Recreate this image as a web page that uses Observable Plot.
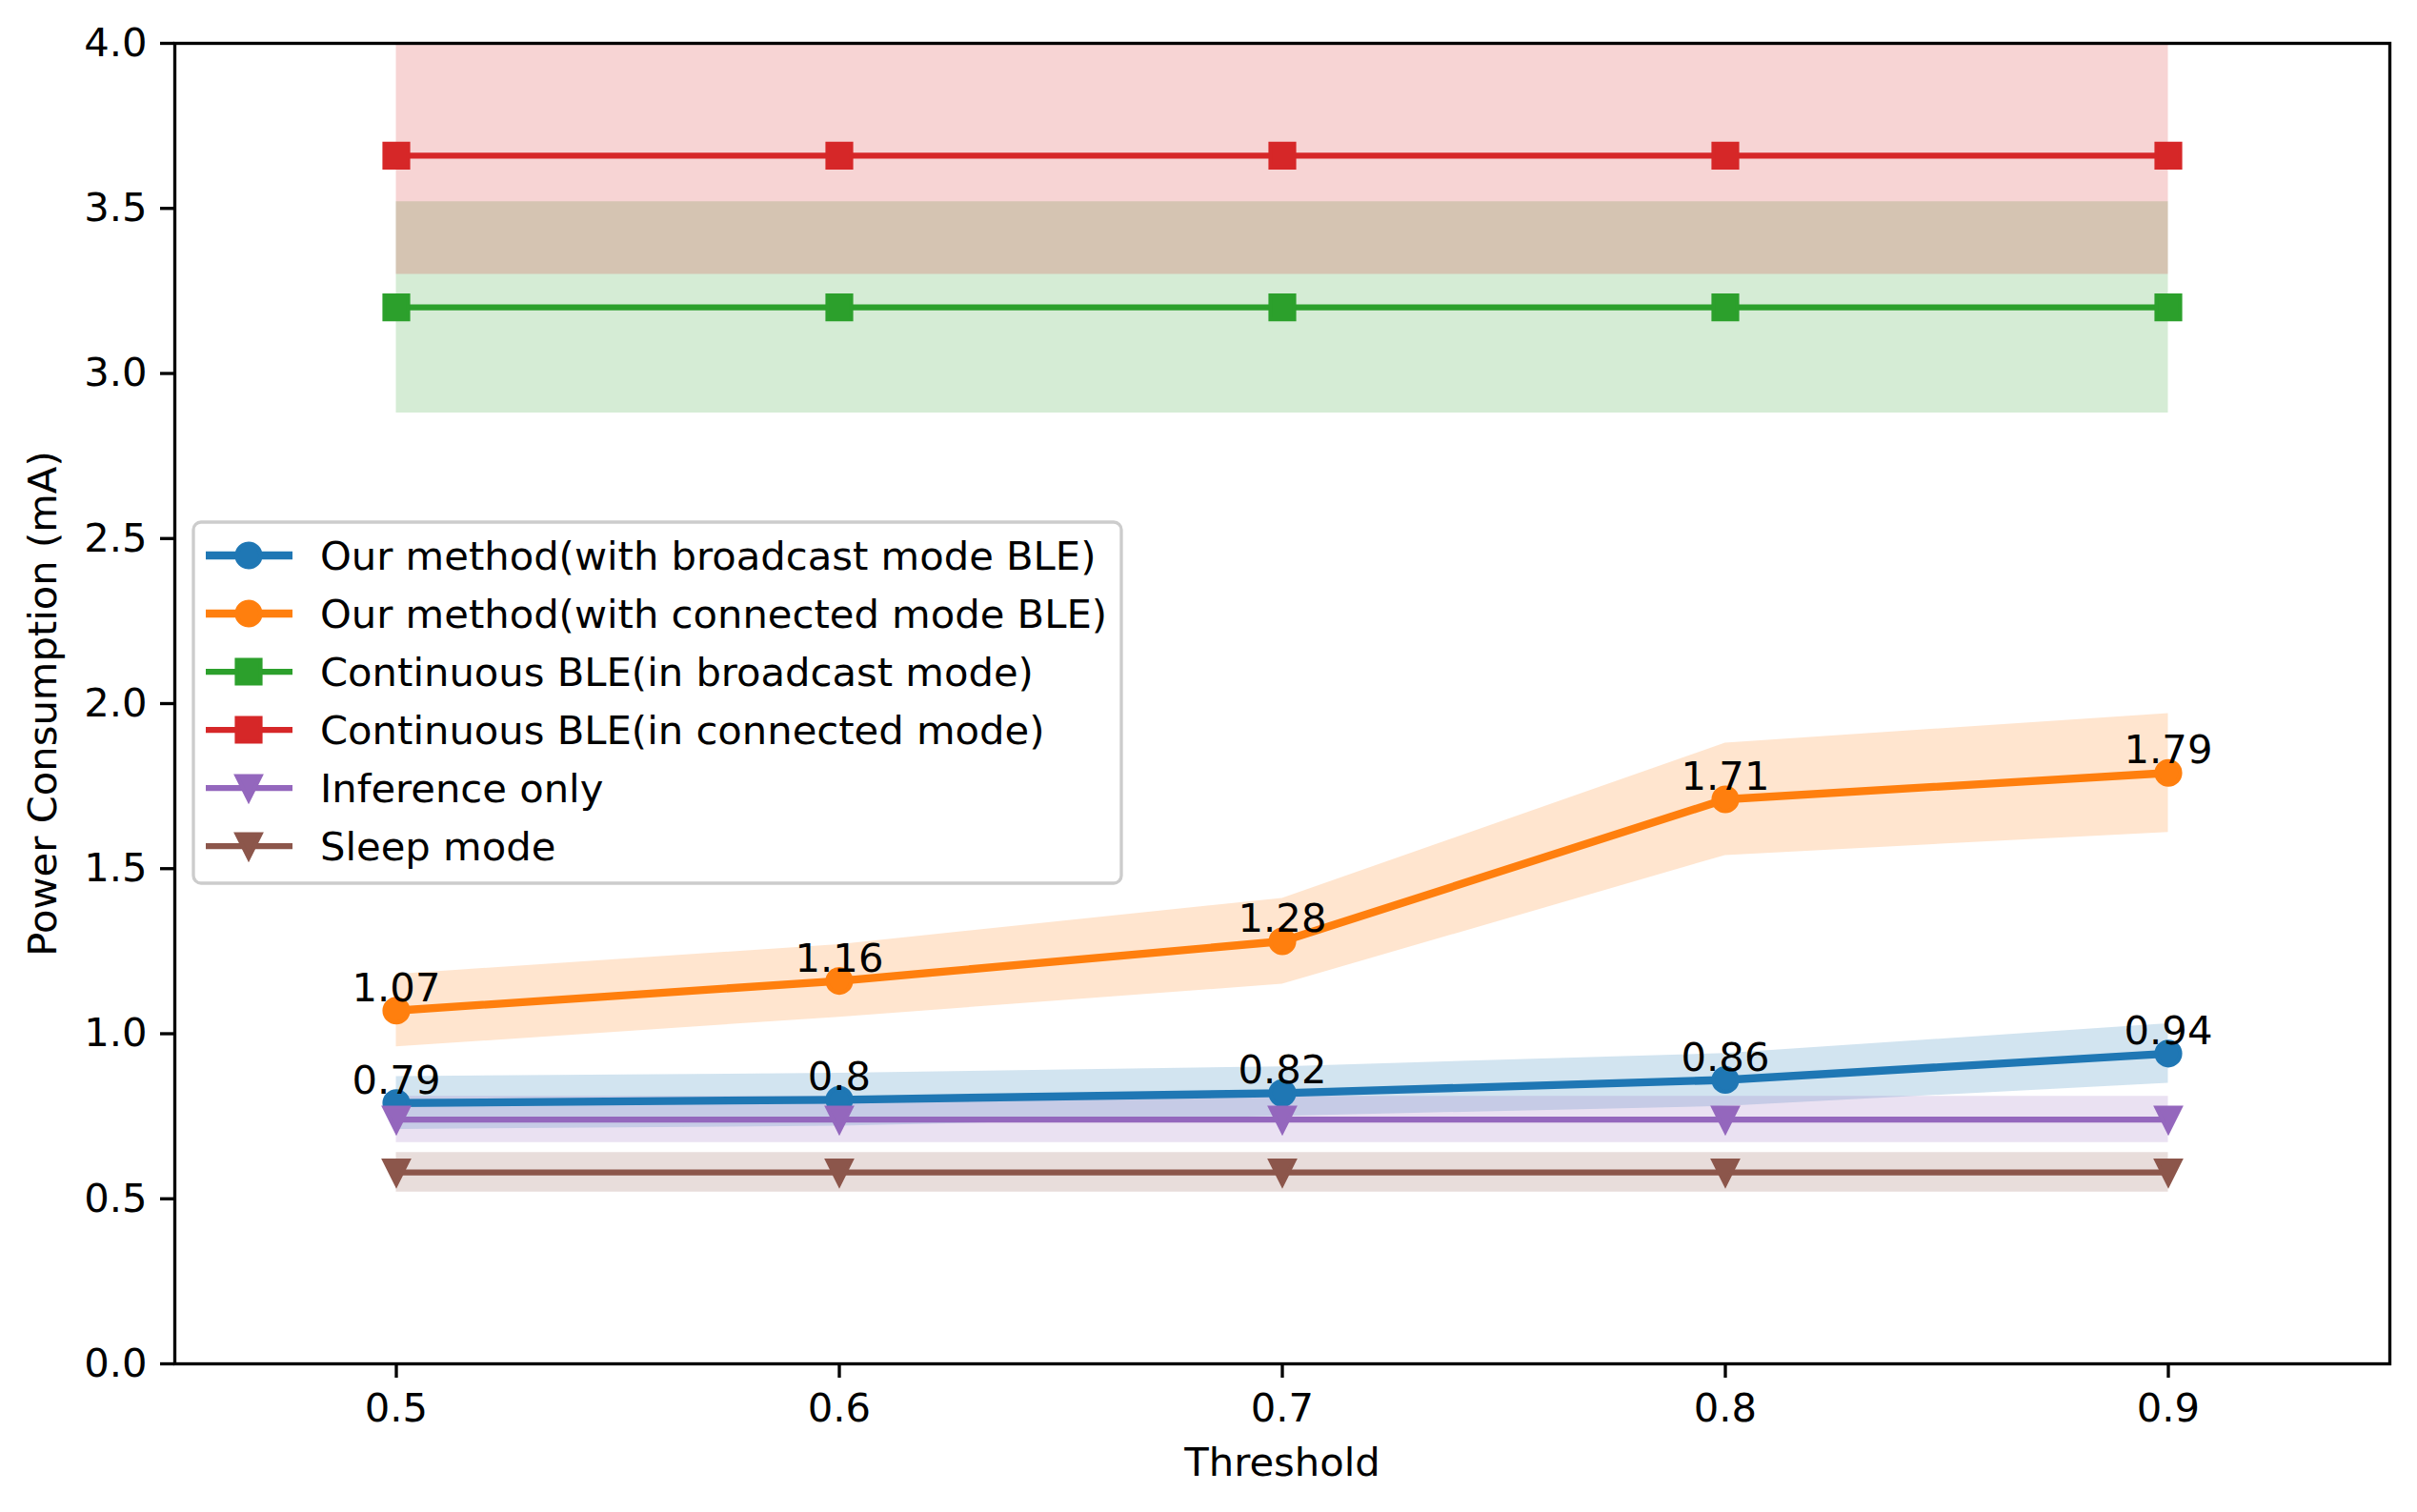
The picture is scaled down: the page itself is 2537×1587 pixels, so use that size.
<!DOCTYPE html>
<html><head><meta charset="utf-8">
<script src="https://cdn.jsdelivr.net/npm/d3@7"></script>
<script src="https://cdn.jsdelivr.net/npm/@observablehq/plot@0.6"></script>
<style>
body{margin:0;background:#fff}
#wrap{position:relative;width:2537px;height:1587px}
#wrap svg{display:block}
#legend{position:absolute;left:0;top:0}
</style>
</head><body><div id="wrap"></div>
<script>
const thresholds = [0.5, 0.6, 0.7, 0.8, 0.9];

const broadcastMean = [0.79, 0.80, 0.82, 0.86, 0.94];
const broadcastLow  = [0.71, 0.72, 0.75, 0.78, 0.85];
const broadcastHigh = [0.87, 0.88, 0.90, 0.94, 1.03];

const connectedMean = [1.07, 1.16, 1.28, 1.71, 1.79];
const connectedLow  = [0.96, 1.05, 1.15, 1.54, 1.61];
const connectedHigh = [1.18, 1.27, 1.41, 1.88, 1.97];

const contBroadcastMean = [3.20, 3.20, 3.20, 3.20, 3.20];
const contBroadcastLow  = [2.88, 2.88, 2.88, 2.88, 2.88];
const contBroadcastHigh = [3.52, 3.52, 3.52, 3.52, 3.52];

const contConnectedMean = [3.66, 3.66, 3.66, 3.66, 3.66];
const contConnectedLow  = [3.30, 3.30, 3.30, 3.30, 3.30];
const contConnectedHigh = [4.02, 4.02, 4.02, 4.02, 4.02];

const inferenceMean = [0.74, 0.74, 0.74, 0.74, 0.74];
const inferenceLow  = [0.67, 0.67, 0.67, 0.67, 0.67];
const inferenceHigh = [0.81, 0.81, 0.81, 0.81, 0.81];

const sleepMean = [0.58, 0.58, 0.58, 0.58, 0.58];
const sleepLow  = [0.52, 0.52, 0.52, 0.52, 0.52];
const sleepHigh = [0.64, 0.64, 0.64, 0.64, 0.64];

const yTicks = [0, 0.5, 1.0, 1.5, 2.0, 2.5, 3.0, 3.5, 4.0];

const squareSym = {draw(ctx, size){ const h = Math.sqrt(size / Math.PI); ctx.rect(-h, -h, 2*h, 2*h); }};
const downTri = {draw(ctx, size){ const h = Math.sqrt(size / Math.PI); ctx.moveTo(0, h); ctx.lineTo(-h, -h); ctx.lineTo(h, -h); ctx.closePath(); }};
const circleSym = d3.symbolCircle;

const series = [
  {name: "Our method(with broadcast mode BLE)", color: "#1f77b4", mean: broadcastMean, low: broadcastLow, high: broadcastHigh, symbol: circleSym, lw: 8.33, labels: true},
  {name: "Our method(with connected mode BLE)", color: "#ff7f0e", mean: connectedMean, low: connectedLow, high: connectedHigh, symbol: circleSym, lw: 8.33, labels: true},
  {name: "Continuous BLE(in broadcast mode)", color: "#2ca02c", mean: contBroadcastMean, low: contBroadcastLow, high: contBroadcastHigh, symbol: squareSym, lw: 6.25, labels: false},
  {name: "Continuous BLE(in connected mode)", color: "#d62728", mean: contConnectedMean, low: contConnectedLow, high: contConnectedHigh, symbol: squareSym, lw: 6.25, labels: false},
  {name: "Inference only", color: "#9467bd", mean: inferenceMean, low: inferenceLow, high: inferenceHigh, symbol: downTri, lw: 6.25, labels: false},
  {name: "Sleep mode", color: "#8c564b", mean: sleepMean, low: sleepLow, high: sleepHigh, symbol: downTri, lw: 6.25, labels: false}
];

const rowsOf = s => thresholds.map((x, i) => ({series: s.name, x, y: s.mean[i], low: s.low[i], high: s.high[i]}));

const FS = 41.7;
const R = 12.5;

const marks = [];
series.forEach(s => marks.push(Plot.areaY(rowsOf(s), {x: "x", y1: "low", y2: "high", fill: s.color, fillOpacity: 0.2, clip: true})));
series.forEach(s => {
  marks.push(Plot.line(rowsOf(s), {x: "x", y: "y", stroke: s.color, strokeWidth: s.lw, strokeLinejoin: "round", clip: true}));
  marks.push(Plot.dot(rowsOf(s), {x: "x", y: "y", symbol: s.symbol, r: R, fill: s.color, stroke: s.color, strokeWidth: 4.17}));
});
series.filter(s => s.labels).forEach(s => {
  marks.push(Plot.text(rowsOf(s), {x: "x", y: "y", text: d => String(d.y), dy: -10, lineAnchor: "bottom", textAnchor: "middle", fill: "black", fontSize: FS}));
});
marks.push(Plot.axisX({ticks: thresholds, tickFormat: d3.format(".1f"), tickSize: 15, tickPadding: 16, strokeWidth: 3.33, fontSize: FS, label: null}));
marks.push(Plot.axisY({ticks: yTicks, tickFormat: d3.format(".1f"), tickSize: 15, tickPadding: 14, strokeWidth: 3.33, fontSize: FS, label: null}));
marks.push(Plot.frame({stroke: "black", strokeWidth: 3.33}));
marks.push(Plot.text([0], {frameAnchor: "left", text: () => "Power Consumption (mA)", rotate: -90, dx: -138, textAnchor: "middle", lineAnchor: "middle", fontSize: FS, fill: "black"}));
marks.push(Plot.text([0], {frameAnchor: "bottom", text: () => "Threshold", dy: 104, textAnchor: "middle", lineAnchor: "middle", fontSize: FS, fill: "black"}));

const chart = Plot.plot({
  width: 2537,
  height: 1587,
  marginLeft: 183,
  marginRight: 29,
  marginTop: 45,
  marginBottom: 156,
  style: {fontFamily: "DejaVu Sans", fontSize: FS + "px", background: "white", color: "black"},
  x: {domain: [0.45, 0.95]},
  y: {domain: [0, 4]},
  marks
});
const wrap = document.getElementById("wrap");
wrap.appendChild(chart);

// Legend overlay
const leg = d3.select(wrap).append("svg").attr("id", "legend").attr("width", 2537).attr("height", 1587);
const lx = 203, ly = 548, lw = 974, lh = 379;
leg.append("rect").attr("x", lx).attr("y", ly).attr("width", lw).attr("height", lh).attr("rx", 8)
  .attr("fill", "white").attr("fill-opacity", 0.8).attr("stroke", "#cccccc").attr("stroke-width", 3.33);
series.forEach((s, i) => {
  const cy = 583 + i * 61;
  const g = leg.append("g");
  g.append("line").attr("x1", 216).attr("x2", 307).attr("y1", cy).attr("y2", cy)
    .attr("stroke", s.color).attr("stroke-width", s.lw);
  g.append("path").attr("transform", `translate(261,${cy})`)
    .attr("d", d3.symbol(s.symbol, Math.PI * R * R)())
    .attr("fill", s.color).attr("stroke", s.color).attr("stroke-width", 4.17);
  g.append("text").attr("x", 336).attr("y", cy).attr("dy", "0.35em")
    .attr("font-family", "DejaVu Sans").attr("font-size", FS).attr("fill", "black").text(s.name);
});
</script>
</body></html>
